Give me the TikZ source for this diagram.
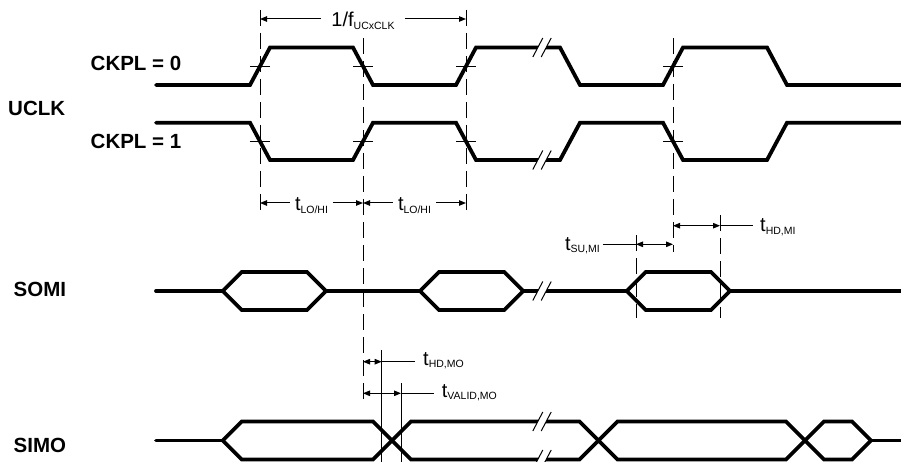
\documentclass[tikz,border=0pt]{standalone}
\usepackage{fontspec}
\setmainfont{Liberation Sans}
\usetikzlibrary{arrows.meta}

\newcommand{\tsub}[2]{#1\raisebox{-2.5pt}{\fontsize{10.5}{11}\selectfont #2}}
% break mark "//" at (#1,#2)
\newcommand{\brkmark}[2]{%
  \fill[white] (#1-9.2,#2+9.5) -- (#1+0.8,#2-9.5) -- (#1+9.2,#2-9.5) -- (#1-0.8,#2+9.5) -- cycle;
  \draw[fine] (#1-9.2,#2+9.5) -- (#1+0.8,#2-9.5) (#1-0.8,#2+9.5) -- (#1+9.2,#2-9.5);}

\begin{document}
\begin{tikzpicture}[x=1pt,y=-1pt,
    wave/.style={line width=3.8pt, line cap=round},
    fine/.style={line width=1pt},
    guide/.style={line width=1pt, dash pattern=on 16pt off 7pt},
    dim/.style={line width=1pt, {Triangle[length=7pt,width=5.5pt]}-{Triangle[length=7pt,width=5.5pt]}},
    sig/.style={font=\fontsize{20.5}{22}\selectfont\bfseries, anchor=base west, inner sep=0pt},
    tlab/.style={font=\fontsize{20}{22}\selectfont, inner sep=0pt}]
    \useasboundingbox (0,0) rectangle (901,462);

    % signal names
    \node[sig] (uclk) at (8,116)      {UCLK};
    \node[sig] (ck0)  at (90.5,70.7)  {CKPL = 0};
    \node[sig] (ck1)  at (90.5,148.3) {CKPL = 1};
    \node[sig] (somi) at (13.5,296.7) {SOMI};
    \node[sig] (simo) at (13.5,452.3) {SIMO};

    % guide lines
    \draw[guide] (260,10)  -- (260,213);
    \draw[guide] (363,38)  -- (363,403);
    \draw[guide] (466,10)  -- (466,213);
    \draw[guide] (673,38)  -- (673,252);
    \draw[guide] (636,235) -- (636,318);
    \draw[guide] (720,215) -- (720,318);
    \draw[fine]  (381.7,350) -- (381.7,462);
    \draw[fine]  (401,383)   -- (401,462);

    % clocks
    \draw[wave] (156,85) -- (250,85) -- (270,47.5) -- (353,47.5) -- (373,85) -- (456,85)
      -- (476,47.5) -- (560,47.5) -- (580,85) -- (663,85) -- (683,47.5) -- (767,47.5)
      -- (787,85) -- (901,85);
    \draw[wave] (156,122.7) -- (250,122.7) -- (270,160) -- (353,160) -- (373,122.7) -- (456,122.7)
      -- (476,160) -- (560,160) -- (580,122.7) -- (663,122.7) -- (683,160) -- (767,160)
      -- (787,122.7) -- (901,122.7);
    \foreach \x in {260,363,466,673}
      \draw[fine] (\x-10,66.25) -- (\x+10,66.25) (\x-10,141.35) -- (\x+10,141.35);

    % SOMI
    \draw[wave] (156,291) -- (222.7,291) (326,291) -- (420,291)
      (523.3,291) -- (626.7,291) (730,291) -- (901,291);
    \foreach \a/\b in {222.7/326, 420/523.3, 626.7/730}
      \draw[wave] (\a,291) -- (\a+19,272) -- (\b-19,272) -- (\b,291)
        -- (\b-19,310) -- (\a+19,310) -- cycle;

    % SIMO
    \draw[wave] (156,440.5) -- (222.7,440.5) (871,440.5) -- (901,440.5);
    \draw[wave] (222.7,440.5) -- (241.7,421.5) -- (373,421.5) -- (392,440.5) -- (411,421.5)
      -- (579.5,421.5) -- (598.5,440.5) -- (617.5,421.5) -- (786,421.5) -- (805,440.5)
      -- (824,421.5) -- (852,421.5) -- (871,440.5);
    \draw[wave] (222.7,440.5) -- (241.7,459.5) -- (373,459.5) -- (392,440.5) -- (411,459.5)
      -- (579.5,459.5) -- (598.5,440.5) -- (617.5,459.5) -- (786,459.5) -- (805,440.5)
      -- (824,459.5) -- (852,459.5) -- (871,440.5);

    % breaks
    \brkmark{542}{47.5}
    \brkmark{542}{160}
    \brkmark{542}{291}
    \brkmark{542}{421.5}
    \brkmark{542}{459.5}

    % period
    \coordinate (a0) at (260,19);
    \coordinate (a1) at (466,19);
    \draw[dim] (a0) -- (a1);
    \node[tlab, anchor=base, fill=white, inner xsep=10pt, inner ysep=1pt] (per) at (363,26.7) {\tsub{1/f}{UCxCLK}};

    % low/high times
    \coordinate (b0) at (260,203);
    \coordinate (b1) at (363,203);
    \coordinate (b2) at (466,203);
    \draw[dim] (b0) -- (b1);
    \draw[dim] (b1) -- (b2);
    \node[tlab, anchor=base, fill=white, inner xsep=5pt, inner ysep=1pt] (lo) at (311.5,211) {\tsub{t}{LO/HI}};
    \node[tlab, anchor=base, fill=white, inner xsep=5pt, inner ysep=1pt] (hi) at (414.5,211) {\tsub{t}{LO/HI}};

    % hold / setup MI
    \coordinate (c0) at (673,225.7);
    \coordinate (c1) at (720,225.7);
    \draw[dim] (c0) -- (c1);
    \node[tlab, anchor=base west] (hdmi) at (760,231.7) {\tsub{t}{HD,MI}};
    \draw[fine, shorten >=7pt] (c1) -- (hdmi.west |- c1);

    \coordinate (d0) at (636,244.3);
    \coordinate (d1) at (673,244.3);
    \draw[dim] (d0) -- (d1);
    \node[tlab, anchor=base east] (sumi) at (600,250) {\tsub{t}{SU,MI}};
    \draw[fine, shorten >=3pt] (d0) -- (sumi.east |- d0);

    % hold / valid MO
    \coordinate (e0) at (363,361.7);
    \coordinate (e1) at (381.7,361.7);
    \draw[dim] (e0) -- (e1);
    \node[tlab, anchor=base west] (hdmo) at (423,365) {\tsub{t}{HD,MO}};
    \draw[fine, shorten >=8pt] (e1) -- (hdmo.west |- e1);

    \coordinate (f0) at (363,393.3);
    \coordinate (f1) at (401,393.3);
    \draw[dim] (f0) -- (f1);
    \node[tlab, anchor=base west] (vmo) at (441.7,397.3) {\tsub{t}{VALID,MO}};
    \draw[fine, shorten >=7.7pt] (f1) -- (vmo.west |- f1);
\end{tikzpicture}
\end{document}
